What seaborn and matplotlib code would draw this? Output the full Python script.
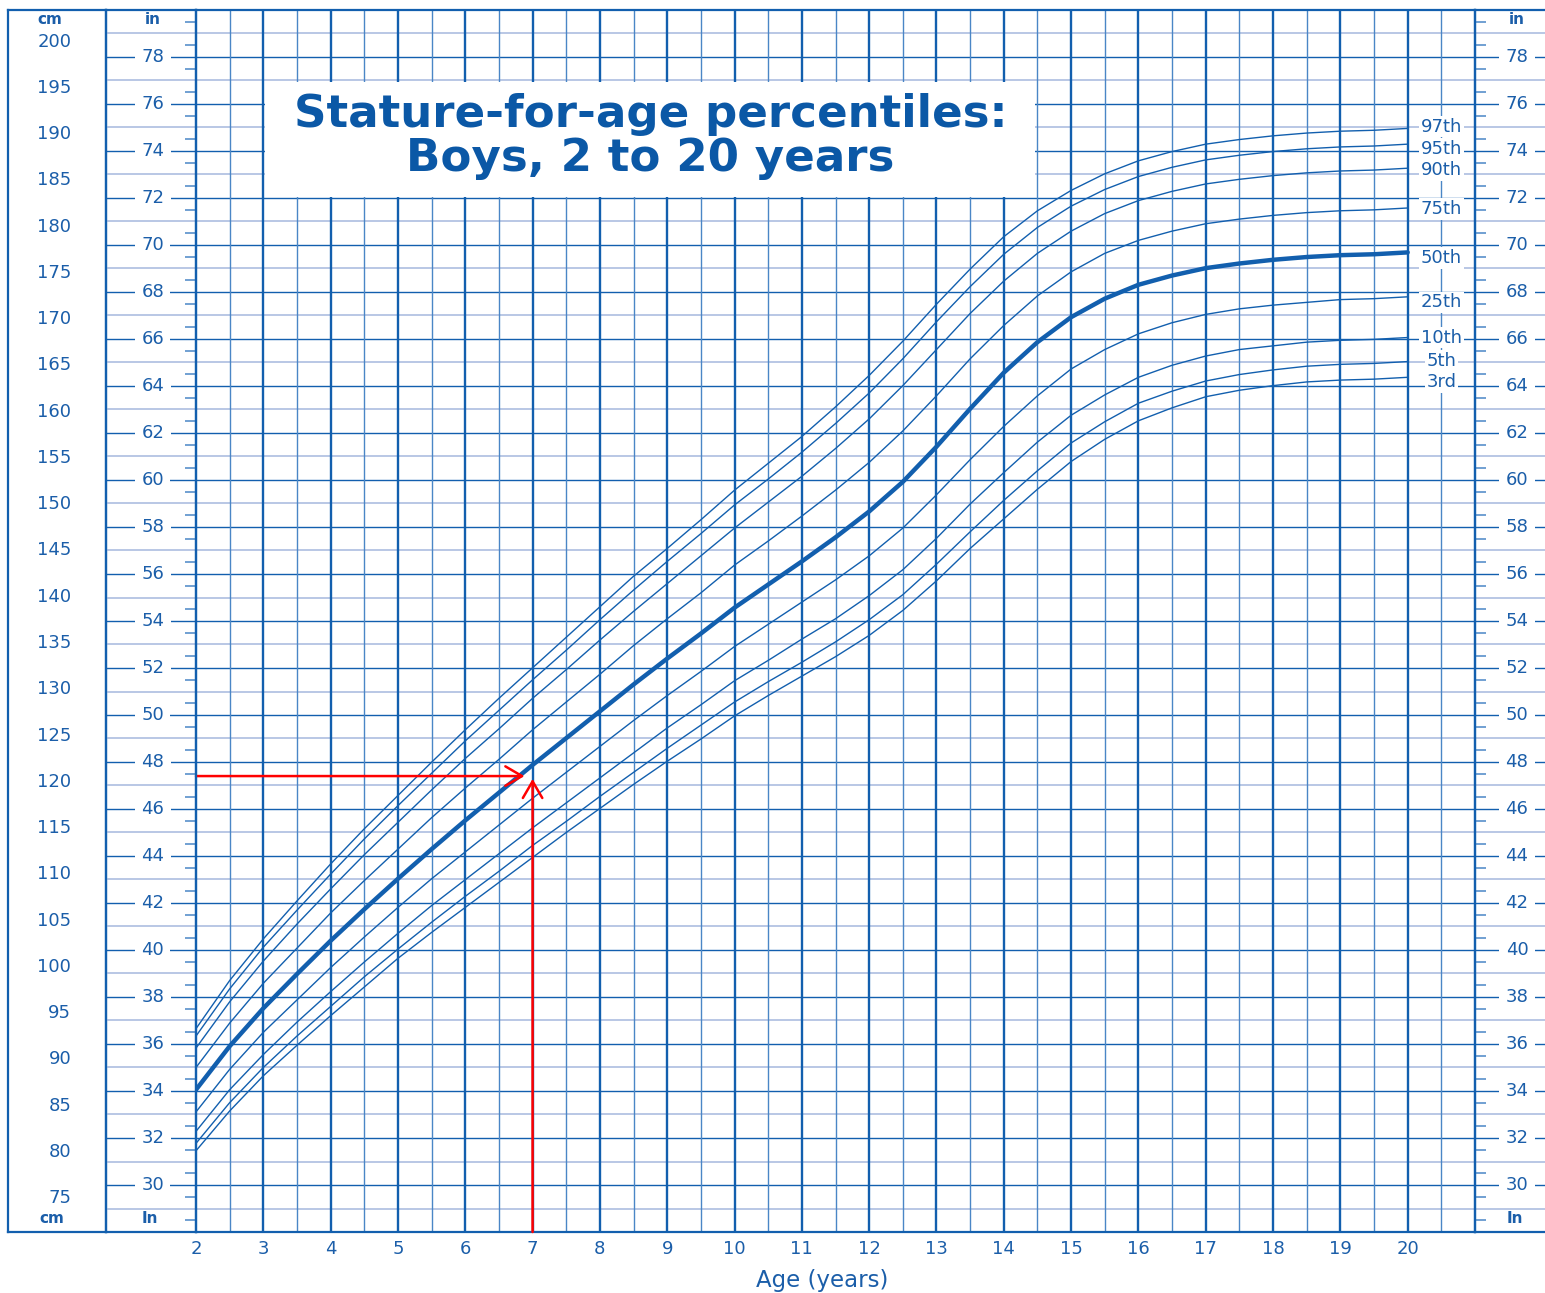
import numpy as np
import pandas as pd
import matplotlib
matplotlib.use("Agg")
import matplotlib.pyplot as plt
import matplotlib.transforms as mtransforms
from matplotlib.patches import Rectangle
import seaborn as sns

# ages in years (half-year steps), stature in cm
ages = [2.0, 2.5, 3.0, 3.5, 4.0, 4.5, 5.0, 5.5, 6.0, 6.5, 7.0, 7.5, 8.0, 8.5,
        9.0, 9.5, 10.0, 10.5, 11.0, 11.5, 12.0, 12.5, 13.0, 13.5, 14.0, 14.5,
        15.0, 15.5, 16.0, 16.5, 17.0, 17.5, 18.0, 18.5, 19.0, 19.5, 20.0]

p97 = [93.1, 98.3, 102.8, 106.9, 110.9, 114.7, 118.3, 121.9, 125.4, 128.8, 132.1, 135.4,
       138.7, 142.0, 145.0, 148.1, 151.3, 154.2, 157.1, 160.3, 163.7, 167.4, 171.4, 175.2,
       178.7, 181.5, 183.7, 185.5, 186.9, 187.9, 188.7, 189.2, 189.6, 189.9, 190.1, 190.2, 190.4]
p95 = [92.3, 97.4, 101.9, 105.9, 109.8, 113.6, 117.2, 120.7, 124.2, 127.5, 130.8, 134.0,
       137.3, 140.5, 143.6, 146.6, 149.7, 152.5, 155.4, 158.5, 161.8, 165.5, 169.5, 173.3,
       176.8, 179.7, 182.0, 183.8, 185.2, 186.2, 187.0, 187.5, 187.9, 188.2, 188.4, 188.5, 188.7]
p90 = [91.0, 96.0, 100.4, 104.4, 108.2, 111.9, 115.4, 118.9, 122.3, 125.5, 128.8, 131.9,
       135.1, 138.2, 141.2, 144.2, 147.2, 150.0, 152.8, 155.8, 159.0, 162.6, 166.5, 170.4,
       173.9, 176.9, 179.3, 181.2, 182.6, 183.6, 184.4, 184.9, 185.3, 185.6, 185.8, 185.9, 186.1]
p75 = [88.9, 93.7, 98.0, 101.8, 105.6, 109.1, 112.5, 115.9, 119.1, 122.2, 125.4, 128.4,
       131.4, 134.5, 137.4, 140.2, 143.2, 145.8, 148.5, 151.3, 154.3, 157.7, 161.5, 165.5,
       169.1, 172.3, 174.9, 176.9, 178.3, 179.3, 180.1, 180.6, 181.0, 181.3, 181.5, 181.6, 181.8]
p50 = [86.5, 91.2, 95.3, 99.0, 102.6, 106.0, 109.3, 112.5, 115.6, 118.6, 121.6, 124.5,
       127.4, 130.3, 133.1, 135.8, 138.6, 141.1, 143.6, 146.2, 149.0, 152.2, 156.0, 160.1,
       164.0, 167.3, 170.0, 172.0, 173.5, 174.5, 175.3, 175.8, 176.2, 176.5, 176.7, 176.8, 177.0]
p25 = [84.1, 88.7, 92.7, 96.2, 99.7, 103.0, 106.2, 109.3, 112.2, 115.1, 118.0, 120.8,
       123.6, 126.4, 129.1, 131.7, 134.4, 136.8, 139.2, 141.6, 144.2, 147.2, 150.8, 154.6,
       158.2, 161.5, 164.4, 166.5, 168.2, 169.4, 170.3, 170.9, 171.3, 171.6, 171.9, 172.0, 172.2]
p10 = [82.0, 86.5, 90.3, 93.8, 97.1, 100.3, 103.4, 106.4, 109.2, 112.0, 114.8, 117.5,
       120.2, 122.9, 125.6, 128.1, 130.7, 132.9, 135.2, 137.4, 139.9, 142.7, 146.1, 149.8,
       153.2, 156.5, 159.4, 161.6, 163.5, 164.8, 165.8, 166.5, 166.9, 167.3, 167.5, 167.6, 167.8]
p5 = [80.7, 85.1, 88.9, 92.3, 95.5, 98.7, 101.7, 104.6, 107.4, 110.1, 112.9, 115.5,
      118.2, 120.8, 123.4, 125.9, 128.4, 130.6, 132.7, 134.9, 137.3, 140.0, 143.3, 146.8,
      150.2, 153.4, 156.4, 158.7, 160.7, 162.0, 163.1, 163.8, 164.3, 164.7, 164.9, 165.0, 165.2]
p3 = [79.9, 84.2, 88.0, 91.3, 94.5, 97.6, 100.7, 103.5, 106.2, 108.9, 111.6, 114.3,
      116.9, 119.5, 122.0, 124.4, 126.9, 129.1, 131.2, 133.3, 135.6, 138.3, 141.5, 145.0,
      148.2, 151.4, 154.4, 156.8, 158.8, 160.2, 161.4, 162.1, 162.6, 163.0, 163.2, 163.3, 163.5]

pct_names = ["97th", "95th", "90th", "75th", "50th", "25th", "10th", "5th", "3rd"]
pct_values = [p97, p95, p90, p75, p50, p25, p10, p5, p3]

# label heights at the right edge (cm), slightly spread so they don't collide
label_y = {"97th": 190.6, "95th": 188.2, "90th": 185.9, "75th": 181.7, "50th": 176.4,
           "25th": 171.6, "10th": 167.8, "5th": 165.3, "3rd": 163.0}

age_ticks = list(range(2, 21))
cm_ticks = list(range(75, 201, 5))
inch_labels = list(range(30, 79, 2))

child_age = 7
child_cm = 120.4

df = pd.DataFrame({
    "age": ages * len(pct_names),
    "height": [v for vals in pct_values for v in vals],
    "pct": [n for n in pct_names for _ in ages],
})

DARK = "#125fae"
MID = "#4a86c6"
LIGHT = "#b3c3e3"
TEXT = "#1b5ea9"
TITLE = "#0b58a6"

sns.set_style("white")
plt.rcParams["font.family"] = ["DejaVu Sans"]

IN = 2.54
YLIM = (28 * IN, 80 * IN)
W, H = 1545, 1293
TOP, BOT = 10, 1232


def box(x0, x1):
    return [x0 / W, 1 - BOT / H, (x1 - x0) / W, (BOT - TOP) / H]


fig = plt.figure(figsize=(W / 100, H / 100), dpi=100)
ax_cm = fig.add_axes(box(8, 106))
ax_in = fig.add_axes(box(106, 196))
ax = fig.add_axes(box(196, 1475))
ax_r = fig.add_axes(box(1475, 1545))
ax.set_zorder(0)
for a in (ax_in, ax_r):
    a.set_zorder(1)
    a.patch.set_visible(False)

for a in (ax_cm, ax_in, ax, ax_r):
    a.set_ylim(*YLIM)
    for s in a.spines.values():
        s.set_color(DARK)
        s.set_linewidth(1.6)
ax_r.spines["right"].set_visible(False)

# main grid
ax.set_xlim(2, 21)
span = 1475 - 196
for inch in range(29, 80):
    even = inch % 2 == 0
    ax.axhline(inch * IN, xmin=(106 - 196) / span, xmax=(1545 - 196) / span,
               color=DARK if even else LIGHT, lw=1.0 if even else 1.3,
               clip_on=False, zorder=1)
for a in np.arange(2.5, 21, 0.5):
    whole = float(a).is_integer()
    ax.axvline(a, color=DARK if whole else MID, lw=1.7 if whole else 1.0, zorder=1)

ax.add_patch(Rectangle((3.03, 72 * IN + 0.12), 11.44, 5 * IN - 0.24,
                       facecolor="white", edgecolor="none", zorder=2))
ax.text(8.75, 190.5, "Stature-for-age percentiles:", ha="center", va="baseline",
        fontsize=32.5, fontweight="bold", color=TITLE, zorder=4)
ax.text(8.75, 185.8, "Boys, 2 to 20 years", ha="center", va="baseline",
        fontsize=32.5, fontweight="bold", color=TITLE, zorder=4)

sns.lineplot(data=df, x="age", y="height", hue="pct", size="pct",
             palette={n: DARK for n in pct_names},
             sizes={n: (3.2 if n == "50th" else 1.0) for n in pct_names},
             estimator=None, legend=False, ax=ax, zorder=3)

for n in pct_names:
    ax.text(20.5, label_y[n], n, ha="center", va="center", fontsize=13, color=TEXT,
            zorder=4, bbox=dict(boxstyle="square,pad=0.1", fc="white", ec="none"))

ax.annotate("", xy=(child_age - 0.12, child_cm), xytext=(2, child_cm),
            arrowprops=dict(arrowstyle="->,head_length=0.6,head_width=0.35",
                            color="red", lw=1.8, shrinkA=0, shrinkB=0, mutation_scale=20),
            zorder=5)
ax.annotate("", xy=(child_age, child_cm - 0.3), xytext=(child_age, YLIM[0]),
            arrowprops=dict(arrowstyle="->,head_length=0.6,head_width=0.35",
                            color="red", lw=1.8, shrinkA=0, shrinkB=0, mutation_scale=20),
            zorder=5)

ax.set_xticks(age_ticks, [str(t) for t in age_ticks])
ax.set_xticks(np.arange(2.25, 21, 0.5), minor=True)
ax.set_yticks([])
ax.tick_params(axis="x", which="major", length=0, pad=6, labelsize=13, labelcolor=TEXT)
ax.tick_params(axis="x", which="minor", direction="in", length=7, width=1.0, color=DARK)
ax.set_xlabel("")
ax.set_ylabel("")
fig.text(822 / W, 1 - 1280 / H, "Age (years)", ha="center", va="center",
         fontsize=16.5, color=TEXT)

# left cm scale
ax_cm.set_xticks([])
ax_cm.set_yticks([])
ax_cm.text(0.43, 0.992, "cm", transform=ax_cm.transAxes, ha="center", va="center",
           fontsize=11, fontweight="bold", color=TEXT)
ax_cm.text(0.45, 0.011, "cm", transform=ax_cm.transAxes, ha="center", va="center",
           fontsize=11, fontweight="bold", color=TEXT)

ax_in.set_xticks([])
ax_in.set_yticks(cm_ticks, [str(t) for t in cm_ticks])
ax_in.set_yticks(np.arange(72, 204, 1), minor=True)
ax_in.tick_params(axis="y", which="major", direction="out", length=17, width=1.4,
                  color=DARK, pad=8, labelsize=13, labelcolor=TEXT)
ax_in.tick_params(axis="y", which="minor", direction="out", length=9, width=1.2, color=MID)

to_in = (lambda c: c / IN, lambda i: i * IN)
half_in = np.arange(28.5, 80, 1.0)
for a, side in ((ax_in, "right"), (ax_r, "left")):
    sec = a.secondary_yaxis(side, functions=to_in)
    sec.set_yticks(half_in, [""] * len(half_in))
    sec.tick_params(axis="y", direction="in", length=8, width=1.1, color=MID)
    for s in sec.spines.values():
        s.set_visible(False)

ax_r.set_xticks([])
ax_r.set_yticks([])

for a, xf in ((ax_in, 0.52), (ax_r, 0.6)):
    tr = mtransforms.blended_transform_factory(a.transAxes, a.transData)
    for v in inch_labels:
        a.text(xf, v * IN, str(v), transform=tr, ha="center", va="center", fontsize=13,
               color=TEXT, zorder=3,
               bbox=dict(boxstyle="square,pad=0.35", fc="white", ec="none"))
    a.text(xf, 0.992, "in", transform=a.transAxes, ha="center", va="center",
           fontsize=11, fontweight="bold", color=TEXT)
    a.text(xf - 0.03, 0.011, "In", transform=a.transAxes, ha="center", va="center",
           fontsize=11, fontweight="bold", color=TEXT)

fig.savefig("out.png", dpi=100)
